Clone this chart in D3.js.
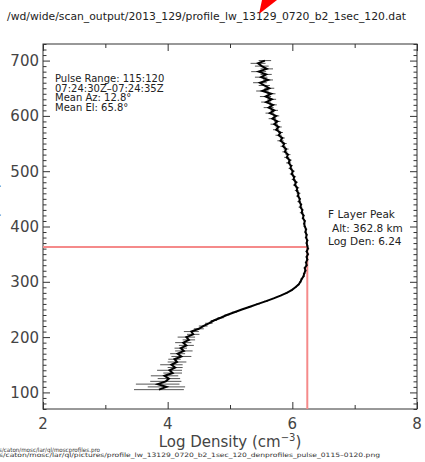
<!DOCTYPE html>
<html lang="en">
<head>
    <meta charset="UTF-8">
    <title>Density profile</title>
    <script src="https://d3js.org/d3.v7.min.js"></script>
    <style>
        body {
            margin: 0;
            background: #fff;
            font-family: "DejaVu Sans", sans-serif;
        }
        svg {
            display: block;
        }
    </style>
</head>
<body>
    <div id="container"></div>

    <script>
        // altitude (km) of each profile point
        const altitudes = [105,110,115,120,125,130,135,140,145,150,155,160,165,170,175,180,185,190,195,200,
            205,210,215,220,225,230,235,240,245,250,255,260,265,270,275,280,285,290,295,300,
            305,310,315,320,325,330,335,340,345,350,355,360,365,370,375,380,385,390,395,400,
            405,410,415,420,425,430,435,440,445,450,455,460,465,470,475,480,485,490,495,500,
            505,510,515,520,525,530,535,540,545,550,555,560,565,570,575,580,585,590,595,600,
            605,610,615,620,625,630,635,640,645,650,655,660,665,670,675,680,685,690,695,700];

        // log density (cm^-3)
        const logDensity = [3.86,3.98,3.84,3.97,4.02,3.95,4.08,4.03,4.12,4.06,4.15,4.11,4.22,4.16,4.26,4.21,4.30,4.25,4.34,4.30,
            4.41,4.38,4.50,4.57,4.66,4.74,4.85,4.95,5.07,5.19,5.32,5.45,5.58,5.70,5.81,5.91,5.99,6.05,6.10,6.13,
            6.15,6.18,6.19,6.21,6.20,6.23,6.22,6.24,6.23,6.25,6.23,6.25,6.24,6.23,6.24,6.22,6.23,6.21,6.22,6.20,
            6.19,6.20,6.17,6.18,6.15,6.16,6.13,6.14,6.11,6.12,6.09,6.10,6.07,6.08,6.04,6.06,6.02,6.03,5.99,6.01,
            5.97,5.98,5.94,5.96,5.91,5.93,5.88,5.90,5.85,5.87,5.81,5.84,5.78,5.81,5.74,5.78,5.71,5.76,5.68,5.74,
            5.64,5.71,5.62,5.69,5.58,5.67,5.57,5.66,5.52,5.63,5.55,5.48,5.61,5.50,5.58,5.46,5.59,5.51,5.45,5.56];

        // half width of the error bar at each point
        const errors = [0.40,0.30,0.35,0.25,0.18,0.22,0.15,0.20,0.12,0.18,0.15,0.10,0.16,0.12,0.14,0.10,0.12,0.13,0.10,0.14,
            0.10,0.12,0.08,0.07,0.06,0.05,0.05,0.04,0.04,0.03,0.03,0.03,0.03,0.02,0.02,0.02,0.02,0.02,0.02,0.02,
            0.02,0.02,0.02,0.02,0.02,0.02,0.02,0.02,0.02,0.02,0.02,0.02,0.02,0.02,0.02,0.02,0.02,0.02,0.02,0.02,
            0.02,0.02,0.02,0.02,0.03,0.02,0.03,0.02,0.03,0.02,0.03,0.03,0.03,0.03,0.03,0.03,0.03,0.03,0.03,0.03,
            0.03,0.03,0.04,0.03,0.04,0.04,0.04,0.04,0.04,0.04,0.05,0.04,0.05,0.04,0.05,0.05,0.06,0.05,0.06,0.05,
            0.07,0.06,0.08,0.06,0.08,0.07,0.09,0.07,0.10,0.08,0.09,0.11,0.08,0.10,0.09,0.12,0.10,0.11,0.12,0.10];

        const xTicks = [2, 4, 6, 8];
        const xMinor = [3, 5, 7];
        const yTicks = [100, 200, 300, 400, 500, 600, 700];

        const peakAlt = 362.8;
        const peakDen = 6.24;

        const title = '/wd/wide/scan_output/2013_129/profile_lw_13129_0720_b2_1sec_120.dat';
        const infoLines = ['Pulse Range: 115:120', '07:24:30Z\u201307:24:35Z', 'Mean Az: 12.8\u00b0', 'Mean El: 65.8\u00b0'];
        const peakLines = ['F Layer Peak', 'Alt: ' + peakAlt + ' km', 'Log Den: ' + peakDen];
        const footLines = ['s/caton/mosc/lar/ql/moscprofiles.pro',
            's/caton/mosc/lar/ql/pictures/profile_lw_13129_0720_b2_1sec_120_denprofiles_pulse_0115\u20130120.png'];

        const width = 425, height = 462;
        const pLeft = 43, pRight = 417, pTop = 44, pBottom = 409;

        const svg = d3.select('#container').append('svg')
            .attr('width', width)
            .attr('height', height);

        const x = d3.scaleLinear().domain([2, 8]).range([pLeft, pRight]);
        const y = d3.scaleLinear().domain([70, 730]).range([pBottom, pTop]);

        const data = altitudes.map((a, i) => ({alt: a, den: logDensity[i], err: errors[i]}));

        // title + red marker
        svg.append('text')
            .attr('x', 7).attr('y', 20)
            .attr('font-size', 10)
            .attr('fill', '#222')
            .attr('textLength', 399)
            .attr('lengthAdjust', 'spacingAndGlyphs')
            .text(title);

        svg.append('polygon')
            .attr('points', '259,14 262,0 277,0')
            .attr('fill', '#f00');

        // frame
        svg.append('rect')
            .attr('x', pLeft).attr('y', pTop)
            .attr('width', pRight - pLeft).attr('height', pBottom - pTop)
            .attr('fill', 'none')
            .attr('stroke', '#333')
            .attr('stroke-width', 1);

        // axes, ticks pointing inward
        const yMinor = d3.range(70, 731, 10).filter(v => v % 100 != 0);

        svg.append('g').attr('transform', `translate(${pLeft},0)`)
            .call(d3.axisRight(y).tickValues(yTicks).tickSize(7).tickFormat(''));
        svg.append('g').attr('transform', `translate(${pLeft},0)`)
            .call(d3.axisRight(y).tickValues(yMinor).tickSize(3.5).tickFormat(''));
        svg.append('g').attr('transform', `translate(${pRight},0)`)
            .call(d3.axisLeft(y).tickValues(yTicks).tickSize(7).tickFormat(''));
        svg.append('g').attr('transform', `translate(${pRight},0)`)
            .call(d3.axisLeft(y).tickValues(yMinor).tickSize(3.5).tickFormat(''));

        svg.append('g').attr('transform', `translate(0,${pBottom})`)
            .call(d3.axisTop(x).tickValues(xTicks).tickSize(7).tickFormat(''));
        svg.append('g').attr('transform', `translate(0,${pBottom})`)
            .call(d3.axisTop(x).tickValues(xMinor).tickSize(4).tickFormat(''));
        svg.append('g').attr('transform', `translate(0,${pTop})`)
            .call(d3.axisBottom(x).tickValues(xTicks).tickSize(7).tickFormat(''));
        svg.append('g').attr('transform', `translate(0,${pTop})`)
            .call(d3.axisBottom(x).tickValues(xMinor).tickSize(4).tickFormat(''));

        svg.selectAll('.domain').remove();
        svg.selectAll('.tick line').attr('stroke', '#333');

        // tick labels
        svg.selectAll('.ylab')
            .data(yTicks)
            .enter()
            .append('text')
            .attr('x', pLeft - 4)
            .attr('y', d => y(d) + 5.5)
            .attr('text-anchor', 'end')
            .attr('font-size', 15)
            .attr('fill', '#444')
            .text(d => d);

        svg.selectAll('.xlab')
            .data(xTicks)
            .enter()
            .append('text')
            .attr('x', d => x(d))
            .attr('y', 429)
            .attr('text-anchor', 'middle')
            .attr('font-size', 15)
            .attr('fill', '#444')
            .text(d => d);

        // axis titles
        const xt = svg.append('text')
            .attr('x', (pLeft + pRight) / 2)
            .attr('y', 447)
            .attr('text-anchor', 'middle')
            .attr('font-size', 15)
            .attr('fill', '#444');
        xt.append('tspan').text('Log Density (cm');
        xt.append('tspan').attr('font-size', 10).attr('dy', -6).text('\u22123');
        xt.append('tspan').attr('dy', 6).text(')');

        // y title sits almost entirely outside the page, as in the original
        svg.append('text')
            .attr('transform', 'translate(-2,182) rotate(-90)')
            .attr('text-anchor', 'end')
            .attr('font-size', 16)
            .attr('fill', '#444')
            .text('Altitude (km)');

        // peak marker lines
        svg.append('line')
            .attr('x1', pLeft).attr('x2', x(peakDen))
            .attr('y1', y(peakAlt)).attr('y2', y(peakAlt))
            .attr('stroke', '#f58a8a').attr('stroke-width', 2);
        svg.append('line')
            .attr('x1', x(peakDen)).attr('x2', x(peakDen))
            .attr('y1', y(peakAlt)).attr('y2', pBottom)
            .attr('stroke', '#f58a8a').attr('stroke-width', 2);

        // error bars
        svg.selectAll('.err')
            .data(data)
            .enter()
            .append('line')
            .attr('x1', d => x(d.den - d.err))
            .attr('x2', d => x(d.den + d.err))
            .attr('y1', d => y(d.alt))
            .attr('y2', d => y(d.alt))
            .attr('stroke', '#555')
            .attr('stroke-width', 1);

        // profile
        const line = d3.line()
            .x(d => x(d.den))
            .y(d => y(d.alt));

        svg.append('path')
            .datum(data)
            .attr('d', line)
            .attr('fill', 'none')
            .attr('stroke', '#000')
            .attr('stroke-width', 2);

        // annotation text
        svg.selectAll('.info')
            .data(infoLines)
            .enter()
            .append('text')
            .attr('x', 55)
            .attr('y', (d, i) => 82 + i * 9.5)
            .attr('font-size', 10)
            .attr('fill', '#222')
            .text(d => d);

        svg.selectAll('.peak')
            .data(peakLines)
            .enter()
            .append('text')
            .attr('x', (d, i) => i == 1 ? 332 : 328)
            .attr('y', (d, i) => 218 + i * 13.5)
            .attr('font-size', 10.5)
            .attr('fill', '#222')
            .text(d => d);

        // footer paths (overlapping, as in the original)
        svg.selectAll('.foot')
            .data(footLines)
            .enter()
            .append('text')
            .attr('x', -1)
            .attr('y', (d, i) => 452 + i * 5)
            .attr('font-size', 6)
            .attr('fill', '#333')
            .attr('textLength', (d, i) => i == 0 ? 101 : 381)
            .attr('lengthAdjust', 'spacingAndGlyphs')
            .text(d => d);
    </script>
</body>
</html>
